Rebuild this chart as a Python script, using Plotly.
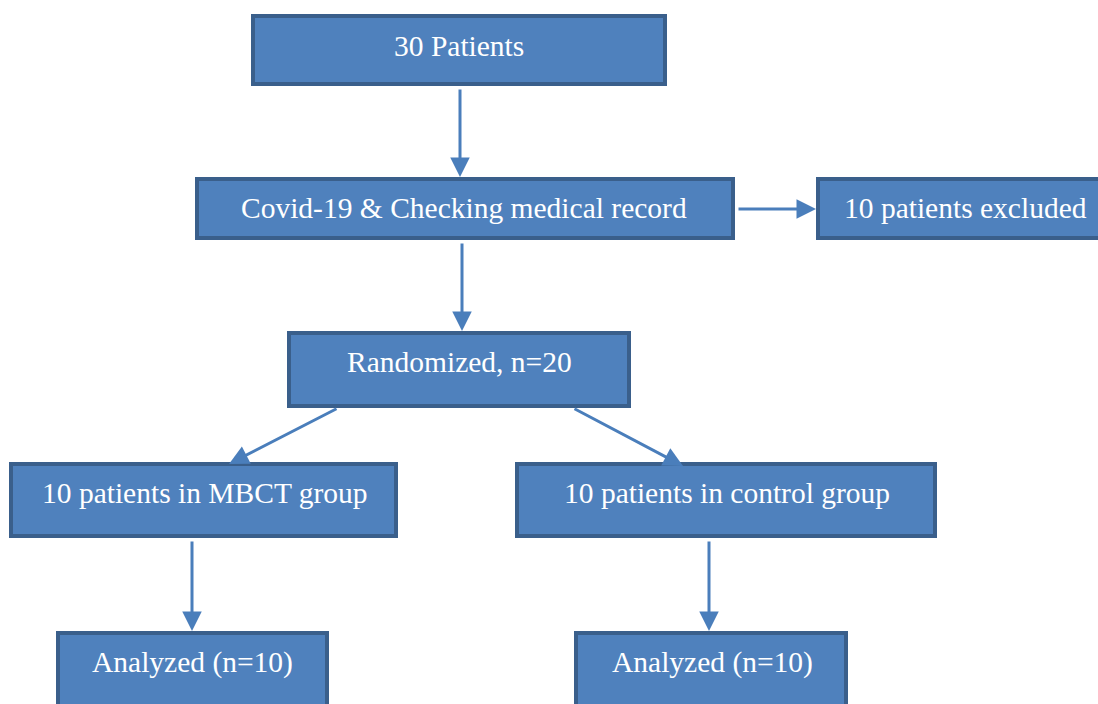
import plotly.graph_objects as go

# Flowchart content
labels = [
    "30 Patients",
    "Covid-19 & Checking medical record",
    "10 patients excluded",
    "Randomized, n=20",
    "10 patients in MBCT group",
    "10 patients in control group",
    "Analyzed (n=10)",
    "Analyzed (n=10)",
]
# box extents (pixels, outer edge)
box_x0 = [251, 195, 816, 287, 9, 515, 56, 574]
box_x1 = [667, 735, 1110, 631, 398, 937, 329, 848]
box_y0 = [14, 177, 177, 331, 462, 462, 631, 631]
box_y1 = [86, 240, 240, 408, 538, 538, 720, 720]
# text anchor positions (cap centres)
text_x = [459, 464, 965, 459, 205, 727, 192, 712]
text_y = [46, 208, 208, 362, 493, 493, 662, 662]

# arrows: tail -> tip
arrow_x0 = [460, 737, 462, 338, 573, 192, 709]
arrow_y0 = [88, 209, 242, 408, 408, 540, 540]
arrow_x1 = [460, 816, 462, 229, 683, 192, 709]
arrow_y1 = [177, 209, 331, 464, 466, 631, 631]

W, H = 1098, 704
FILL = "#4F81BD"
EDGE = "#3A5F8B"
ARROW = "#4A7EBB"
BW = 4

fig = go.Figure()
fig.add_trace(go.Scatter(x=[0, W], y=[0, H], mode="markers",
                         marker=dict(opacity=0), hoverinfo="skip", showlegend=False))

shapes = []
for x0, x1, y0, y1 in zip(box_x0, box_x1, box_y0, box_y1):
    h = BW / 2
    shapes.append(dict(type="rect", xref="x", yref="y",
                       x0=x0 + h, x1=x1 - h, y0=y0 + h, y1=y1 - h,
                       fillcolor=FILL, line=dict(color=EDGE, width=BW), layer="above"))

annotations = []
for xa, ya, xb, yb in zip(arrow_x0, arrow_y0, arrow_x1, arrow_y1):
    annotations.append(dict(x=xb, y=yb, ax=xa, ay=ya, xref="x", yref="y",
                            axref="x", ayref="y", text="", showarrow=True,
                            arrowhead=2, arrowsize=1.3, arrowwidth=3,
                            arrowcolor=ARROW, standoff=0, startstandoff=0))
for lab, tx, ty in zip(labels, text_x, text_y):
    annotations.append(dict(x=tx, y=ty, xref="x", yref="y", text=lab,
                            showarrow=False, xanchor="center", yanchor="middle",
                            font=dict(family="Liberation Serif", size=29.5, color="white")))

fig.update_layout(
    width=W, height=H,
    margin=dict(l=0, r=0, t=0, b=0),
    paper_bgcolor="white", plot_bgcolor="white",
    xaxis=dict(range=[0, W], visible=False, fixedrange=True),
    yaxis=dict(range=[H, 0], visible=False, fixedrange=True),
    shapes=shapes, annotations=annotations, showlegend=False,
)
fig.write_html("out.html", config={"displayModeBar": False},
               post_script="document.body.style.margin='0';document.body.style.overflow='hidden';")
